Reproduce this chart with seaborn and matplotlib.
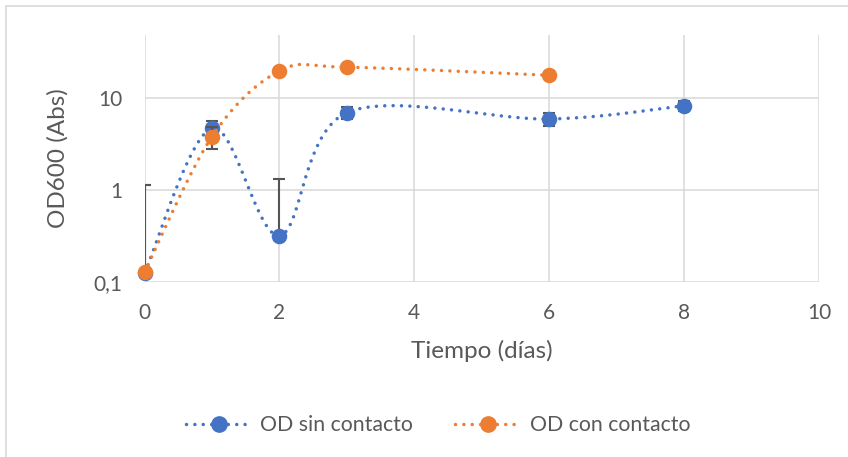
import numpy as np
import pandas as pd
import matplotlib
matplotlib.use("Agg")
import matplotlib.pyplot as plt
import seaborn as sns
from matplotlib.lines import Line2D
from matplotlib.patches import Rectangle

# Optical density over time, with and without contact
dias_sin = [0, 1, 2, 3, 6, 8]
od_sin = [0.125, 4.71, 0.32, 6.97, 5.95, 8.3]
err_sin = [1.0, 1.0, 1.0, 1.0, 1.0, 1.0]

dias_con = [0, 1, 2, 3, 6]
od_con = [0.128, 3.82, 19.8, 21.8, 17.8]
err_con = [1.0, 1.0, 1.0, 1.0, 1.0]

x_ticks = [0, 2, 4, 6, 8, 10]
y_ticks = [0.1, 1, 10]
y_tick_labels = ["0,1", "1", "10"]

series_names = ["OD sin contacto", "OD con contacto"]
colors = ["#4472C4", "#ED7D31"]

GRID = "#D9D9D9"
TEXT = "#595959"
FONT = "Lato"


def smooth_curve(x, y, n=80):
    """Bezier spline through the points (Catmull-Rom control points),
    built in (x, log10 y) space so it follows the log axis."""
    P = np.column_stack([np.asarray(x, float), np.log10(np.asarray(y, float))])
    pieces = []
    for i in range(len(P) - 1):
        p0 = P[i - 1] if i > 0 else P[i]
        p1, p2 = P[i], P[i + 1]
        p3 = P[i + 2] if i + 2 < len(P) else P[i + 1]
        c1 = p1 + (p2 - p0) / 6.0
        c2 = p2 - (p3 - p1) / 6.0
        t = np.linspace(0, 1, n)[:, None]
        seg = ((1 - t) ** 3) * p1 + 3 * ((1 - t) ** 2) * t * c1 \
            + 3 * (1 - t) * (t ** 2) * c2 + (t ** 3) * p2
        pieces.append(seg if i == 0 else seg[1:])
    S = np.vstack(pieces)
    return S[:, 0], 10 ** S[:, 1]


sns.set_theme(style="white")
plt.rcParams["font.family"] = [FONT, "DejaVu Sans"]

W, H = 848, 457
fig = plt.figure(figsize=(W / 100, H / 100), dpi=100)
ax = fig.add_axes([144.5 / W, 1 - 282 / H, (819 - 144.5) / W, (282 - 35) / H])

dot_style = (0, (0.01, 2.4))
series = [
    (dias_sin, od_sin, err_sin, series_names[0], colors[0]),
    (dias_con, od_con, err_con, series_names[1], colors[1]),
]

for z, (xs, ys, es, name, col) in enumerate(series):
    sx, sy = smooth_curve(xs, ys)
    curve = pd.DataFrame({"dia": sx, "od": sy, "serie": name})
    sns.lineplot(data=curve, x="dia", y="od", sort=False, estimator=None,
                 color=col, ax=ax, lw=2.5, legend=False, zorder=3 + 3 * z)
    ax.lines[-1].set_linestyle(dot_style)
    ax.lines[-1].set_dash_capstyle("round")

    # error bars; the lower half is left out where it would fall below zero
    ys_a = np.asarray(ys, float)
    es_a = np.asarray(es, float)
    lower = np.where(es_a < ys_a, es_a, 0.0)
    ax.errorbar(xs, ys, yerr=[lower, es_a], fmt="none", ecolor="#555555",
                elinewidth=1.5, capsize=4.3, capthick=1.5, zorder=4 + 3 * z)

    pts = pd.DataFrame({"dia": xs, "od": ys})
    sns.scatterplot(data=pts, x="dia", y="od", color=col, s=125,
                    edgecolor=col, linewidth=0, ax=ax, legend=False,
                    zorder=5 + 3 * z)
    ax.collections[-1].set_clip_on(False)

ax.set_yscale("log")
ax.set_xlim(0, 10)
ax.set_ylim(0.1, 10 ** 1.689)
ax.set_xticks(x_ticks)
ax.set_xticklabels([str(v) for v in x_ticks])
ax.set_yticks(y_ticks)
ax.set_yticklabels(y_tick_labels)
ax.yaxis.set_minor_locator(matplotlib.ticker.NullLocator())

ax.grid(True, which="major", color=GRID, lw=1.1)
for sp in ax.spines.values():
    sp.set_visible(False)
ax.tick_params(axis="both", length=0, labelsize=15, colors=TEXT)
ax.tick_params(axis="y", pad=16)
ax.tick_params(axis="x", pad=15)

ax.set_xlabel("Tiempo (días)", fontsize=17.5, color=TEXT, labelpad=12)
ax.set_ylabel("OD600 (Abs)", fontsize=17.5, color=TEXT, labelpad=18)

handles = [
    Line2D([0], [0], color=c, lw=2.5, linestyle=dot_style,
           dash_capstyle="round", marker="o", markersize=11,
           markerfacecolor=c, markeredgecolor=c)
    for c in colors
]
leg = fig.legend(handles, series_names, loc="center", ncol=2,
                 bbox_to_anchor=(438 / W, 1 - 425 / H), frameon=False,
                 fontsize=15.3, handlelength=3.1, columnspacing=2.0,
                 handletextpad=0.4)
for t in leg.get_texts():
    t.set_color(TEXT)

# chart frame
fig.patches.append(Rectangle((5.5 / W, -0.1), 1.2, 1 - 6 / H + 0.1,
                             transform=fig.transFigure, fill=False,
                             edgecolor=GRID, lw=1.2))

fig.savefig("out.png", dpi=100)
